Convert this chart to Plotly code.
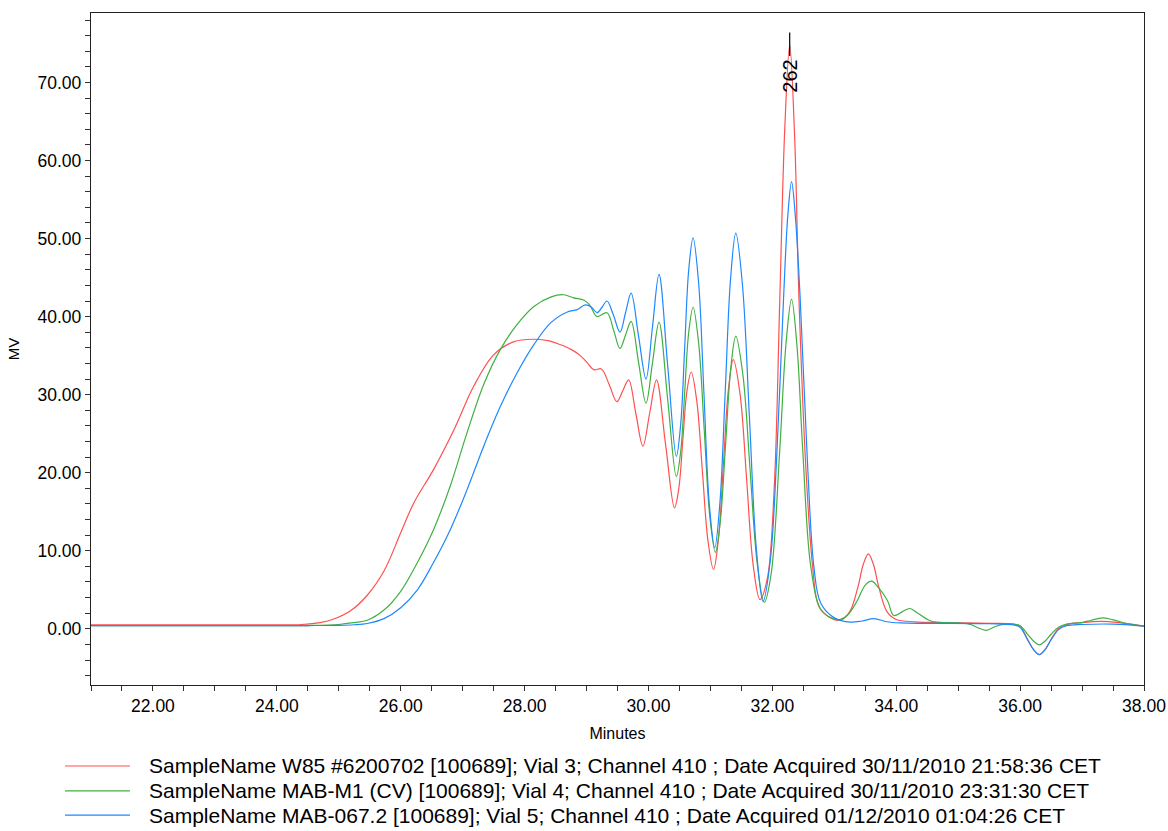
import plotly.graph_objects as go

# ---------------- data ----------------
red_name = "SampleName W85 #6200702 [100689]; Vial 3; Channel 410 ; Date Acquired 30/11/2010 21:58:36 CET"
green_name = "SampleName MAB-M1 (CV) [100689]; Vial 4; Channel 410 ; Date Acquired 30/11/2010 23:31:30 CET"
blue_name = "SampleName MAB-067.2 [100689]; Vial 5; Channel 410 ; Date Acquired 01/12/2010 01:04:26 CET"

red_t = [21.0, 23.0, 24.0, 24.4, 24.7, 24.92, 25.19, 25.46, 25.73, 26.0, 26.21, 26.53, 26.86,
         27.18, 27.5, 27.83, 28.15, 28.4, 28.58, 28.75, 28.9, 29.0, 29.12, 29.24, 29.37, 29.49,
         29.585, 29.68, 29.795, 29.91, 30.02, 30.13, 30.275, 30.42, 30.49, 30.555, 30.62, 30.69,
         30.78, 30.87, 30.96, 31.05, 31.13, 31.21, 31.29, 31.37, 31.48, 31.585, 31.69, 31.80,
         31.92, 32.03, 32.12, 32.2, 32.28, 32.36, 32.43, 32.54, 32.65, 32.75, 32.94, 33.10,
         33.25, 33.38, 33.47, 33.55, 33.63, 33.72, 33.85, 34.0, 34.3, 34.8, 35.5, 35.9, 36.0,
         36.12, 36.22, 36.31, 36.4, 36.5, 36.62, 36.75, 37.0, 37.3, 37.6, 38.0]
red_v = [0.5, 0.5, 0.5, 0.55, 0.8, 1.25, 2.3, 4.3, 7.4, 12.3, 16.1, 20.4, 25.5,
         31.1, 35.1, 36.8, 37.1, 36.9, 36.4, 35.8, 35.0, 34.2, 33.2, 33.3, 31.2, 29.1,
         30.5, 31.9, 27.65, 23.4, 27.65, 31.9, 23.7, 15.5, 18.0, 24.2, 30.4, 32.9,
         29.2, 20.25, 11.3, 7.6, 11.5, 21.05, 30.6, 34.5, 30.0, 19.1, 8.2, 3.75,
         6.5, 18.0, 42.2, 64.0, 74.8, 63.0, 42.2, 20.8, 8.0, 2.9, 1.4, 1.1,
         2.2, 5.3, 8.3, 9.6, 8.3, 5.3, 2.2, 1.2, 0.9, 0.8, 0.7, 0.6, 0.3,
         -1.35, -2.7, -3.3, -2.7, -1.35, 0.0, 0.55, 0.8, 0.95, 0.8, 0.35]

green_t = [21.0, 23.0, 24.0, 24.5, 25.0, 25.25, 25.46, 25.73, 26.0, 26.27, 26.53, 26.8, 27.07,
           27.34, 27.61, 27.88, 28.15, 28.42, 28.63, 28.79, 28.96, 29.05, 29.17, 29.33, 29.44,
           29.54, 29.63, 29.72, 29.84, 29.96, 30.065, 30.17, 30.31, 30.45, 30.52, 30.585, 30.65,
           30.72, 30.81, 30.9, 30.99, 31.08, 31.16, 31.245, 31.33, 31.41, 31.525, 31.64, 31.755,
           31.87, 31.98, 32.12, 32.22, 32.31, 32.40, 32.49, 32.62, 32.78, 32.95, 33.1, 33.22,
           33.37, 33.5, 33.6, 33.7, 33.86, 33.96, 34.1, 34.22, 34.35, 34.56, 35.0, 35.2, 35.3,
           35.45, 35.6, 35.75, 35.9, 36.0, 36.12, 36.22, 36.31, 36.4, 36.5, 36.62, 36.75, 37.0,
           37.15, 37.33, 37.5, 37.7, 38.0]
green_v = [0.4, 0.4, 0.4, 0.42, 0.55, 0.8, 1.1, 2.4, 4.8, 8.5, 12.7, 18.3, 25.1,
           31.3, 35.8, 39.0, 41.3, 42.5, 42.8, 42.4, 42.1, 41.5, 40.0, 40.5, 38.2,
           35.9, 37.65, 39.4, 34.15, 28.9, 34.1, 39.3, 29.4, 19.5, 22.7, 30.35, 38.0,
           41.2, 36.6, 25.5, 14.4, 9.8, 13.8, 23.65, 33.5, 37.5, 32.5, 20.45, 8.4,
           3.4, 7.0, 23.0, 36.5, 42.2, 36.0, 23.0, 8.0, 2.5, 1.4, 1.2, 1.8,
           3.6, 5.6, 6.1, 5.4, 3.6, 1.7, 2.2, 2.6, 2.0, 1.0, 0.75, 0.55, 0.2,
           -0.2, 0.3, 0.6, 0.6, 0.4, -0.7, -1.6, -2.05, -1.6, -0.7, 0.2, 0.6, 0.8,
           1.1, 1.4, 1.15, 0.7, 0.35]

blue_t = [21.0, 23.0, 24.5, 25.0, 25.25, 25.46, 25.73, 26.0, 26.27, 26.53, 26.8, 27.07, 27.34,
          27.61, 27.88, 28.15, 28.42, 28.69, 28.85, 28.98, 29.08, 29.17, 29.25, 29.33,
          29.43, 29.54, 29.63, 29.72, 29.84, 29.96, 30.065, 30.17, 30.31, 30.45, 30.52, 30.585,
          30.65, 30.72, 30.81, 30.895, 30.98, 31.07, 31.155, 31.24, 31.325, 31.41, 31.52, 31.63,
          31.74, 31.85, 31.97, 32.07, 32.18, 32.25, 32.31, 32.37, 32.45, 32.57, 32.67, 32.78,
          33.0, 33.26, 33.45, 33.64, 33.85, 34.07, 34.5, 35.5, 35.9, 36.0, 36.12, 36.22, 36.31,
          36.4, 36.5, 36.62, 36.75, 37.0, 37.5, 38.0]
blue_v = [0.4, 0.4, 0.42, 0.45, 0.52, 0.68, 1.3, 2.7, 5.0, 8.5, 12.7, 17.8, 23.4,
          28.5, 32.8, 36.4, 39.2, 40.6, 40.9, 41.5, 41.2, 40.5, 41.2, 42.0,
          40.3, 38.0, 40.5, 43.0, 37.5, 32.0, 38.7, 45.4, 33.75, 22.1, 26.2, 36.1,
          46.0, 50.1, 44.3, 30.25, 16.2, 10.4, 16.3, 30.55, 44.8, 50.7, 43.8, 27.1,
          10.4, 3.5, 9.0, 22.0, 42.2, 53.0, 57.3, 53.0, 42.2, 20.8, 8.0, 3.3,
          1.4, 0.85, 1.0, 1.3, 0.9, 0.75, 0.7, 0.65, 0.5, 0.2, -1.4, -2.7, -3.3,
          -2.7, -1.4, -0.1, 0.4, 0.55, 0.6, 0.35]

x_ticks = [22, 24, 26, 28, 30, 32, 34, 36, 38]
y_ticks = [0, 10, 20, 30, 40, 50, 60, 70]
peak_label = "262"

# ---------------- figure ----------------
FONT = "Liberation Sans, Arial, sans-serif"
series = [(red_name, red_t, red_v, "#FF5050"),
          (green_name, green_t, green_v, "#40B040"),
          (blue_name, blue_t, blue_v, "#1E88FF")]

fig = go.Figure()
for name, t, v, col in series:
    fig.add_trace(go.Scatter(x=t, y=v, mode="lines", name=name, showlegend=False,
                             line=dict(color=col, width=1.2, shape="spline", smoothing=1.0)))

# peak marker on the red trace's apex
i_pk = max(range(len(red_v)), key=lambda i: red_v[i])
pk_t, pk_v = red_t[i_pk], red_v[i_pk]
fig.add_shape(type="line", xref="x", yref="y", x0=pk_t, x1=pk_t, y0=pk_v - 1.4, y1=pk_v + 1.6,
              line=dict(color="black", width=1.2))
fig.add_annotation(x=pk_t, y=pk_v, xref="x", yref="y", text=peak_label, textangle=-90,
                   showarrow=False, xanchor="center", yanchor="middle", yshift=-31,
                   font=dict(family=FONT, size=20, color="black"))

# legend below the axes (line sample + text per series)
leg_rows_y = [-0.1205, -0.1577, -0.1935]
for (name, t, v, col), ry in zip(series, leg_rows_y):
    fig.add_shape(type="line", xref="paper", yref="paper", x0=-0.0247, x1=0.037, y0=ry, y1=ry,
                  line=dict(color=col, width=1.2))
    fig.add_annotation(x=0.0532, y=ry, xref="paper", yref="paper", text=name, showarrow=False,
                       xanchor="left", yanchor="middle",
                       font=dict(family=FONT, size=21, color="black"))

axis_common = dict(showline=True, linecolor="#222222", linewidth=1.3, mirror=True,
                   ticks="outside", ticklen=5, tickcolor="#333333", tickwidth=1,
                   showgrid=False, zeroline=False,
                   tickfont=dict(family=FONT, size=17.5, color="black"))
fig.update_xaxes(range=[21, 38], tickvals=x_ticks, ticktext=[f"{v:.2f}" for v in x_ticks],
                 minor=dict(dtick=0.5, tick0=21, ticks="outside", ticklen=5, tickcolor="#333333", showgrid=False),
                 title=dict(text="Minutes", font=dict(family=FONT, size=16, color="black"), standoff=12),
                 **axis_common)
fig.update_yaxes(range=[-7.2, 78.9], tickvals=y_ticks, ticktext=[f"{v:.2f}" for v in y_ticks],
                 minor=dict(dtick=2, tick0=0, ticks="outside", ticklen=5, tickcolor="#333333", showgrid=False),
                 title=dict(text="MV", font=dict(family=FONT, size=15, color="black"), standoff=14),
                 **axis_common)

fig.update_layout(
    width=1168, height=831,
    margin=dict(l=91, r=24, t=13, b=146, autoexpand=False),
    plot_bgcolor="white", paper_bgcolor="white",
    font=dict(family=FONT, size=16, color="black"),
    showlegend=False,
)

fig.write_html("out.html", config={"displayModeBar": False},
               post_script="document.body.style.margin='0px';")
